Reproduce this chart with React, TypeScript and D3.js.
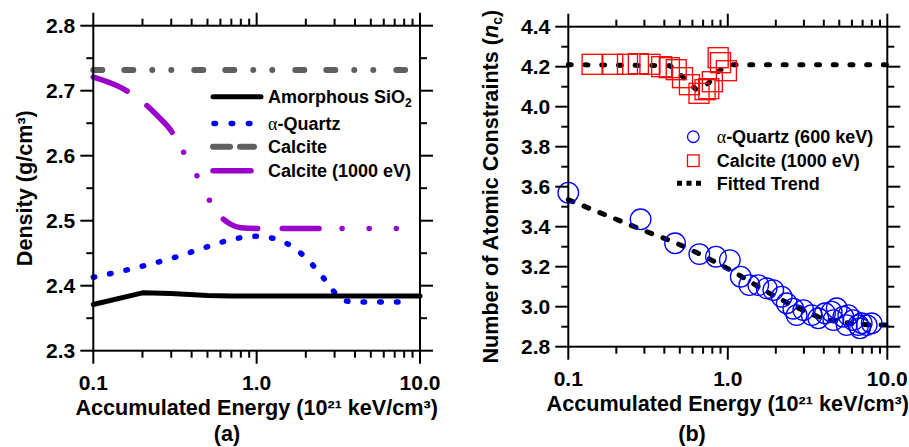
import React, { useEffect, useRef, useState } from "react";
import * as d3 from "d3";

const W = 909;
const H = 447;
const FONT = "'Liberation Sans', Arial, Helvetica, sans-serif";

// ---- shared x axis ----
const xDomain: [number, number] = [0.1, 10];
const xTickLabels = ["0.1", "1.0", "10.0"];
const xTitle = "Accumulated Energy (10²¹ keV/cm³)";

// ---- panel (a): density ----
const densityTickLabels = ["2.3", "2.4", "2.5", "2.6", "2.7", "2.8"];
const amorphousX = [0.1, 0.2, 0.3, 0.5, 0.7, 10];
const amorphousY = [2.371, 2.389, 2.388, 2.385, 2.384, 2.384];
const quartzX = [0.1, 0.2, 0.3, 0.5, 0.7, 1.0, 1.3, 1.7, 2.2, 2.7, 3.2, 3.6, 5, 9];
const quartzY = [2.413, 2.430, 2.442, 2.460, 2.471, 2.476, 2.472, 2.458, 2.432, 2.405, 2.382, 2.376, 2.375, 2.375];
const calciteX = [0.1, 8.1];
const calciteY = [2.732, 2.732];
const calcite1000X = [0.1, 0.15, 0.2, 0.25, 0.3, 0.35, 0.4, 0.45, 0.5, 0.6, 0.7, 0.8, 1.0, 2, 4, 7.2];
const calcite1000Y = [2.721, 2.704, 2.683, 2.66, 2.638, 2.609, 2.584, 2.56, 2.537, 2.507, 2.494, 2.489, 2.488, 2.488, 2.488, 2.488];

// ---- panel (b): atomic constraints ----
const constraintTickLabels = ["2.8", "3.0", "3.2", "3.4", "3.6", "3.8", "4.0", "4.2", "4.4"];
const quartzNcX = [0.1, 0.284, 0.467, 0.663, 0.843, 1.03, 1.205, 1.364, 1.553, 1.753, 1.928, 2.177, 2.34, 2.575, 2.70, 2.975, 3.357, 3.69, 4.07, 4.48, 4.82, 4.59, 5.3, 5.69, 5.56, 6.12, 6.58, 6.91, 7.43, 7.98, 6.75];
const quartzNcY = [3.57, 3.437, 3.317, 3.263, 3.25, 3.233, 3.15, 3.108, 3.108, 3.092, 3.083, 3.05, 3.017, 2.99, 2.958, 2.983, 2.958, 2.942, 2.967, 2.975, 2.992, 2.933, 2.95, 2.958, 2.908, 2.933, 2.908, 2.917, 2.908, 2.917, 2.892];
const calciteNcX = [0.141, 0.19, 0.235, 0.275, 0.325, 0.385, 0.43, 0.475, 0.52, 0.575, 0.66, 0.72, 0.76, 0.8, 0.87, 0.9, 0.98];
const calciteNcY = [4.212, 4.212, 4.212, 4.215, 4.212, 4.2, 4.195, 4.185, 4.145, 4.11, 4.067, 4.085, 4.09, 4.125, 4.245, 4.22, 4.18];
const trendUpperX = [0.1, 0.434, 0.52, 0.64, 0.755, 0.87, 1.0, 10];
const trendUpperY = [4.21, 4.205, 4.15, 4.083, 4.117, 4.175, 4.21, 4.21];
const trendLowerX = [0.1, 0.3, 0.5, 1, 2, 3, 4, 5, 7, 10];
const trendLowerY = [3.535, 3.38, 3.31, 3.19, 3.05, 2.98, 2.94, 2.925, 2.912, 2.908];

// dash-dash-dot-dot-dot pattern of the purple curve (one period + up to 3rd dot)
const purpleDash = [36, 24, 36, 22.5, 0, 26.5, 0, 26.5, 0, 23];
const purpleNominalLength = 366.5;

const zip = (xs: number[], ys: number[]) => xs.map((x, i) => [x, ys[i]] as [number, number]);

function Axes({ xs, ys, yLabels, panelLabel, labelX, yTitle, yTitleX }: any) {
  const [l, r] = xs.range();
  const [b, t] = ys.range();
  const yVals = yLabels.map((s: string) => parseFloat(s));
  const yMinor = yVals.slice(0, -1).map((v: number, i: number) => (v + yVals[i + 1]) / 2);
  const xt = xs.ticks();
  const isMajor = (v: number) => Math.abs(Math.log10(v) - Math.round(Math.log10(v))) < 1e-6;
  const sw = 2;
  const items: any[] = [];
  xt.forEach((v: number, i: number) => {
    const len = isMajor(v) ? 13 : 7;
    const x = xs(v);
    items.push(<line key={"xb" + i} x1={x} x2={x} y1={b} y2={b + len} stroke="#000" strokeWidth={sw} />);
    items.push(<line key={"xt" + i} x1={x} x2={x} y1={t} y2={t - len} stroke="#000" strokeWidth={sw} />);
  });
  yVals.forEach((v: number, i: number) => {
    const y = ys(v);
    items.push(<line key={"yl" + i} x1={l} x2={l - 13} y1={y} y2={y} stroke="#000" strokeWidth={sw} />);
    items.push(<line key={"yr" + i} x1={r} x2={r + 13} y1={y} y2={y} stroke="#000" strokeWidth={sw} />);
    items.push(
      <text key={"ytl" + i} x={l - 18} y={y} dy="0.36em" textAnchor="end" fontSize={21} fontWeight="bold">
        {yLabels[i]}
      </text>
    );
  });
  yMinor.forEach((v: number, i: number) => {
    const y = ys(v);
    items.push(<line key={"yml" + i} x1={l} x2={l - 7} y1={y} y2={y} stroke="#000" strokeWidth={sw} />);
    items.push(<line key={"ymr" + i} x1={r} x2={r + 7} y1={y} y2={y} stroke="#000" strokeWidth={sw} />);
  });
  [0.1, 1, 10].forEach((v, i) => {
    items.push(
      <text key={"xtl" + i} x={xs(v)} y={b + 39} textAnchor="middle" fontSize={21} fontWeight="bold">
        {xTickLabels[i]}
      </text>
    );
  });
  return (
    <g fontFamily={FONT}>
      <rect x={l} y={t} width={r - l} height={b - t} fill="none" stroke="#000" strokeWidth={sw} />
      {items}
      <text x={(l + r) / 2} y={b + 64} textAnchor="middle" fontSize={21.6} fontWeight="bold">
        {xTitle}
      </text>
      <text
        transform={`translate(${yTitleX},${(t + b) / 2}) rotate(-90)`}
        textAnchor="middle"
        dy="0.36em"
        fontSize={21.6}
        fontWeight="bold"
      >
        {yTitle}
      </text>
      <text x={labelX} y={441} textAnchor="middle" fontSize={21.6} fontWeight="bold">
        {panelLabel}
      </text>
    </g>
  );
}

export default function App() {
  const purpleRef = useRef<SVGPathElement>(null);
  const [purpleScale, setPurpleScale] = useState(1);
  useEffect(() => {
    const el = purpleRef.current;
    if (el && typeof el.getTotalLength === "function") {
      const L = el.getTotalLength();
      if (L > 0) setPurpleScale(L / purpleNominalLength);
    }
  }, []);

  const xa = d3.scaleLog().domain(xDomain).range([93.3, 420]);
  const ya = d3.scaleLinear().domain([2.3, 2.8]).range([350.7, 25.7]);
  const xb = d3.scaleLog().domain(xDomain).range([568.3, 887.3]);
  const yb = d3.scaleLinear().domain([2.8, 4.4]).range([346.7, 26.7]);

  const lineA = d3
    .line<[number, number]>()
    .x((d) => xa(d[0]))
    .y((d) => ya(d[1]))
    .curve(d3.curveMonotoneX);
  const lineALin = d3
    .line<[number, number]>()
    .x((d) => xa(d[0]))
    .y((d) => ya(d[1]));
  const lineB = d3
    .line<[number, number]>()
    .x((d) => xb(d[0]))
    .y((d) => yb(d[1]))
    .curve(d3.curveMonotoneX);
  const lineBLin = d3
    .line<[number, number]>()
    .x((d) => xb(d[0]))
    .y((d) => yb(d[1]));

  const purple = "#9900cc";
  const gray = "#5f5f5f";
  const blue = "#0000ff";
  const red = "#ff0000";

  return (
    <svg width={W} height={H} viewBox={`0 0 ${W} ${H}`} style={{ display: "block", position: "absolute", left: 0, top: 0 }}>
      <rect width={W} height={H} fill="#fff" />
      {/* ---------- panel (a) ---------- */}
      <path d={lineA(zip(calciteX, calciteY)) || ""} fill="none" stroke={gray} strokeWidth={6} strokeLinecap="round" strokeDasharray="9 22 9 19 0 19 0 23" />
      <path
        ref={purpleRef}
        d={lineA(zip(calcite1000X, calcite1000Y)) || ""}
        fill="none"
        stroke={purple}
        strokeWidth={5.5}
        strokeLinecap="round"
        strokeDasharray={purpleDash.map((v) => (v * purpleScale).toFixed(2)).join(" ")}
      />
      <path d={lineA(zip(quartzX, quartzY)) || ""} fill="none" stroke={blue} strokeWidth={5.5} strokeLinecap="round" strokeDasharray="1.5 15.2" />
      <path d={lineALin(zip(amorphousX, amorphousY)) || ""} fill="none" stroke="#000" strokeWidth={5} strokeLinecap="round" strokeLinejoin="round" />
      <Axes xs={xa} ys={ya} yLabels={densityTickLabels} panelLabel="(a)" labelX={227} yTitle="Density (g/cm³)" yTitleX={24} />
      <g fontFamily={FONT} fontWeight="bold" fontSize={18}>
        <line x1={213} x2={261} y1={96.7} y2={96.7} stroke="#000" strokeWidth={5} strokeLinecap="round" />
        <text x={268} y={103}>
          Amorphous SiO<tspan fontSize={12} dy={4}>2</tspan>
        </text>
        <line x1={214} x2={250} y1={123.5} y2={123.5} stroke={blue} strokeWidth={5.5} strokeLinecap="round" strokeDasharray="1.5 15.7" />
        <text x={268} y={130}>
          <tspan fontFamily="'Liberation Serif', 'DejaVu Serif', serif" fontWeight="normal">α</tspan>-Quartz
        </text>
        <line x1={213} x2={230} y1={146.7} y2={146.7} stroke={gray} strokeWidth={6} strokeLinecap="round" />
        <line x1={240} x2={254} y1={146.7} y2={146.7} stroke={gray} strokeWidth={6} strokeLinecap="round" />
        <text x={268} y={153}>Calcite</text>
        <line x1={213} x2={251} y1={170.7} y2={170.7} stroke={purple} strokeWidth={5.5} strokeLinecap="round" />
        <text x={268} y={177}>Calcite (1000 eV)</text>
      </g>

      {/* ---------- panel (b) ---------- */}
      <path d={lineBLin(zip(trendUpperX, trendUpperY)) || ""} fill="none" stroke="#000" strokeWidth={5} strokeLinecap="round" strokeDasharray="3 13.7" />
      <path d={lineB(zip(trendLowerX, trendLowerY)) || ""} fill="none" stroke="#000" strokeWidth={5} strokeLinecap="round" strokeDasharray="5 12" />
      {zip(calciteNcX, calciteNcY).map((d, i) => (
        <rect key={"sq" + i} x={xb(d[0]) - 10} y={yb(d[1]) - 10} width={20} height={20} fill="none" stroke={red} strokeWidth={1.3} />
      ))}
      {zip(quartzNcX, quartzNcY).map((d, i) => (
        <circle key={"c" + i} cx={xb(d[0])} cy={yb(d[1])} r={10.3} fill="none" stroke={blue} strokeWidth={1.3} />
      ))}
      <Axes
        xs={xb}
        ys={yb}
        yLabels={constraintTickLabels}
        panelLabel="(b)"
        labelX={692}
        yTitle={
          <>
            Number of Atomic Constraints (<tspan fontStyle="italic">n</tspan>
            <tspan fontSize={14} dy={4}>c</tspan>
            <tspan dy={-4}>)</tspan>
          </>
        }
        yTitleX={490}
      />
      <g fontFamily={FONT} fontWeight="bold" fontSize={18}>
        <circle cx={693.3} cy={136.7} r={5.8} fill="none" stroke={blue} strokeWidth={1.3} />
        <text x={716.7} y={143}>
          <tspan fontFamily="'Liberation Serif', 'DejaVu Serif', serif" fontWeight="normal">α</tspan>-Quartz (600 keV)
        </text>
        <rect x={687.5} y={154.9} width={11.6} height={11.6} fill="none" stroke={red} strokeWidth={1.3} />
        <text x={716.7} y={167}>Calcite (1000 eV)</text>
        <line x1={677} x2={701} y1={183.3} y2={183.3} stroke="#000" strokeWidth={5} strokeDasharray="5 4.5" />
        <text x={716.7} y={190}>Fitted Trend</text>
      </g>
    </svg>
  );
}
